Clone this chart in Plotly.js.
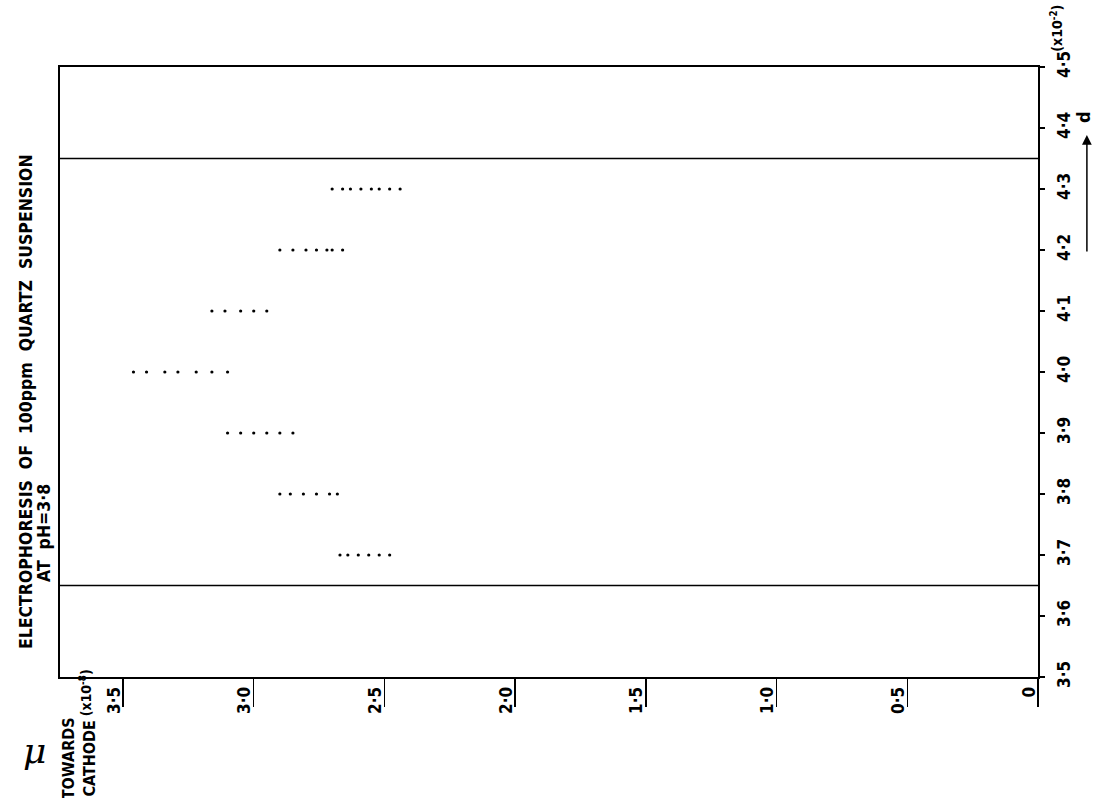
<!DOCTYPE html>
<html>
<head>
<meta charset="utf-8">
<script src="https://cdn.plot.ly/plotly-3.0.1.min.js"></script>
<style>
html,body{margin:0;padding:0;background:#fff;}
#chart{width:1096px;height:798px;}
</style>
</head>
<body>
<div id="chart"></div>
<script>
// d values (x10^-2) of each measured row
const dRows = [3.7, 3.8, 3.9, 4.0, 4.1, 4.2, 4.3];
// mobility readings (x10^-8, towards cathode) for each row
const mu_d37 = [2.67, 2.64, 2.60, 2.56, 2.52, 2.48];
const mu_d38 = [2.90, 2.86, 2.81, 2.76, 2.71, 2.68];
const mu_d39 = [3.10, 3.05, 3.00, 2.95, 2.90, 2.85];
const mu_d40 = [3.46, 3.41, 3.34, 3.29, 3.22, 3.16, 3.10];
const mu_d41 = [3.16, 3.11, 3.05, 3.00, 2.95];
const mu_d42 = [2.90, 2.85, 2.80, 2.76, 2.72, 2.70, 2.66];
const mu_d43 = [2.70, 2.66, 2.63, 2.59, 2.55, 2.52, 2.48, 2.44];
const muRows = [mu_d37, mu_d38, mu_d39, mu_d40, mu_d41, mu_d42, mu_d43];

// stationary-level boundary lines
const boundaryD = [3.65, 4.35];

// tick labels
const muTickVals = [3.5, 3.0, 2.5, 2.0, 1.5, 1.0, 0.5, 0];
const muTickText = ['3·5', '3·0', '2·5', '2·0', '1·5', '1·0', '0·5', '0'];
const dTickVals = [3.5, 3.6, 3.7, 3.8, 3.9, 4.0, 4.1, 4.2, 4.3, 4.4, 4.5];
const dTickText = ['3·5', '3·6', '3·7', '3·8', '3·9', '4·0', '4·1', '4·2', '4·3', '4·4', '4·5'];

const FONT = 'Liberation Sans Narrow, DejaVu Sans Condensed, Arial Narrow, sans-serif';

const xs = [], ys = [];
muRows.forEach((row, i) => row.forEach(m => { xs.push(m); ys.push(dRows[i]); }));

const traces = [{
  type: 'scatter', mode: 'markers', x: xs, y: ys,
  marker: {color: '#000', size: 3.2, symbol: 'circle'},
  hoverinfo: 'skip', showlegend: false
}];

const shapes = boundaryD.map(d => ({
  type: 'line', xref: 'paper', yref: 'y', x0: 0, x1: 1, y0: d, y1: d,
  line: {color: '#000', width: 1.6}
}));

const ann = (text, x, y, size, extra) => Object.assign({
  text: text, xref: 'paper', yref: 'paper', x: x, y: y,
  xanchor: 'center', yanchor: 'middle', showarrow: false, textangle: -90,
  font: {family: FONT, size: size, color: '#000', weight: 'bold'}
}, extra || {});

const NB = '\u00a0';
const annotations = [
  ann('ELECTROPHORESIS' + NB + NB + 'OF' + NB + NB + '100ppm' + NB + NB + 'QUARTZ' + NB + NB + 'SUSPENSION', -0.034, 0.452, 17.5),
  ann('AT' + NB + NB + 'pH=3·8', -0.0165, 0.236, 17.5),
  ann('TOWARDS<br>CATHODE', 0.0195, -0.133, 16),
  ann('(x10<sup>-8</sup>)', 0.026, -0.026, 14),
  ann('μ', -0.026, -0.12, 36, {textangle: 0, font: {family: 'DejaVu Serif, serif', size: 36, color: '#000', style: 'italic'}}),
  ann('(x10<sup>-2</sup>)', 1.0185, 1.063, 14),
  ann('d', 1.046, 0.918, 18),
  {text: '', xref: 'paper', yref: 'paper', x: 1.050, y: 0.8885, ax: 0, ay: 118,
   showarrow: true, arrowhead: 2, arrowsize: 1.3, arrowwidth: 1.5, arrowcolor: '#000'}
];

const layout = {
  width: 1096, height: 798,
  margin: {l: 60, r: 58, t: 67, b: 121, pad: 0},
  paper_bgcolor: '#fff', plot_bgcolor: '#fff',
  showlegend: false,
  font: {family: FONT, color: '#000'},
  xaxis: {
    range: [3.741, 0], showgrid: false, zeroline: false,
    showline: true, mirror: true, linecolor: '#000', linewidth: 2,
    tickmode: 'array', tickvals: muTickVals, ticktext: muTickText,
    ticks: 'outside', ticklen: 28, tickwidth: 1.5, tickcolor: '#000',
    tickangle: -90, ticklabelstandoff: -27, ticklabelshift: 9,
    tickfont: {family: FONT, size: 17, color: '#000', weight: 'bold'}
  },
  yaxis: {
    range: [3.5, 4.5], side: 'right', showgrid: false, zeroline: false,
    showline: true, mirror: true, linecolor: '#000', linewidth: 2,
    tickmode: 'array', tickvals: dTickVals, ticktext: dTickText,
    ticks: 'outside', ticklen: 5, tickwidth: 2, tickcolor: '#000',
    tickangle: -90, ticklabelstandoff: 5,
    tickfont: {family: FONT, size: 17, color: '#000', weight: 'bold'}
  },
  shapes: shapes,
  annotations: annotations
};

Plotly.newPlot('chart', traces, layout, {displayModeBar: false, staticPlot: true});
</script>
</body>
</html>
